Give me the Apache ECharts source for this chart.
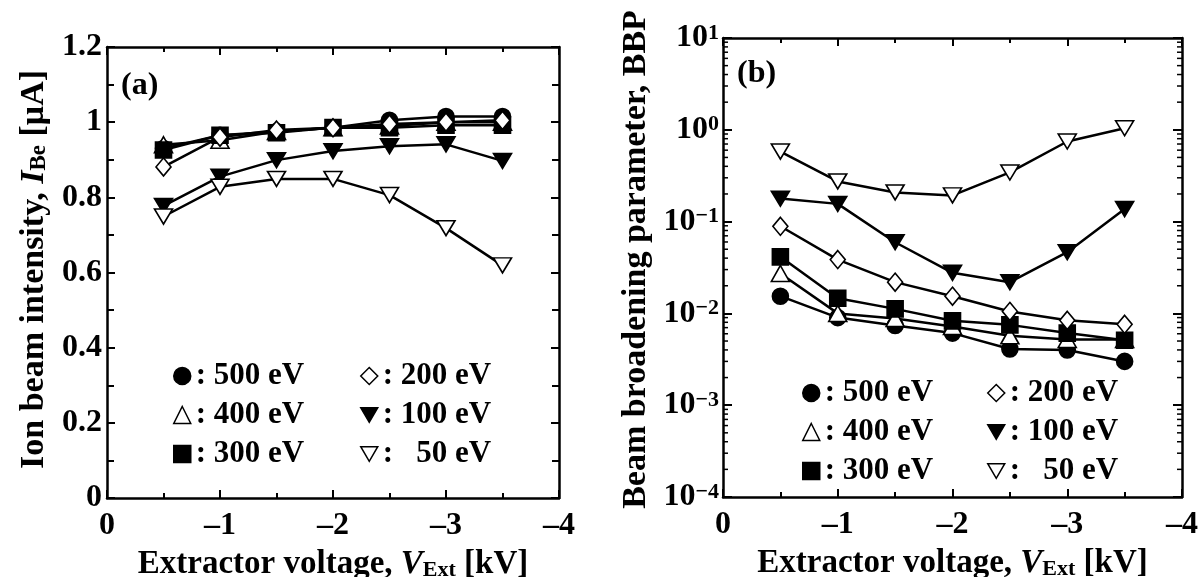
<!DOCTYPE html>
<html><head><meta charset="utf-8">
<script src="https://cdn.jsdelivr.net/npm/echarts@6/dist/echarts.min.js"></script>
<style>html,body{margin:0;padding:0;background:#fff}#c{width:1198px;height:577px}</style>
</head><body><div id="c"></div><script>
// ---------------- data ----------------
const xVals = [-0.5, -1, -1.5, -2, -2.5, -3, -3.5];
const seriesNames = ['500 eV', '400 eV', '300 eV', '200 eV', '100 eV', '50 eV'];
// panel (a) Ion beam intensity [uA]
const intensity500 = [0.930, 0.965, 0.975, 0.985, 1.005, 1.015, 1.015];
const intensity400 = [0.940, 0.952, 0.975, 0.985, 0.990, 1.000, 1.000];
const intensity300 = [0.926, 0.965, 0.972, 0.986, 0.985, 0.992, 0.992];
const intensity200 = [0.881, 0.960, 0.979, 0.985, 0.995, 1.000, 1.005];
const intensity100 = [0.777, 0.855, 0.899, 0.923, 0.936, 0.941, 0.897];
const intensity50  = [0.749, 0.828, 0.849, 0.849, 0.806, 0.718, 0.619];
// panel (b) Beam broadening parameter
const bbp500 = [0.0154, 0.0090, 0.0074, 0.0061, 0.0041, 0.0040, 0.0030];
const bbp400 = [0.0272, 0.0100, 0.0088, 0.0072, 0.0057, 0.0052, 0.0052];
const bbp300 = [0.0413, 0.0146, 0.0112, 0.0083, 0.0075, 0.0061, 0.0051];
const bbp200 = [0.0889, 0.0386, 0.0219, 0.0154, 0.0105, 0.0084, 0.0076];
const bbp100 = [0.178, 0.156, 0.0596, 0.0277, 0.0219, 0.0464, 0.137];
const bbp50  = [0.58, 0.274, 0.208, 0.193, 0.343, 0.746, 1.04];
// axis ranges / ticks
const xMin = -4, xMax = 0, xInterval = 1;
const intensityMin = 0, intensityMax = 1.2, intensityInterval = 0.2;
const bbpMin = 1e-4, bbpMax = 10;
const bbpDecades = [-4, -3, -2, -1, 0];
const bbpMinorMultipliers = [2, 3, 4, 5, 6, 7, 8, 9];

// ---------------- styling ----------------
const FONT = '"Liberation Serif", "DejaVu Serif", serif';
const downTri = 'path://M0,0L10,0L5,8.66Z';
const markers = {
  '500 eV': {symbol: 'circle', size: 16, fill: '#000'},
  '400 eV': {symbol: 'triangle', size: [18, 16], fill: '#fff'},
  '300 eV': {symbol: 'rect', size: 16, fill: '#000'},
  '200 eV': {symbol: 'diamond', size: [15, 18], fill: '#fff'},
  '100 eV': {symbol: downTri, size: [18, 15], fill: '#000'},
  '50 eV':  {symbol: downTri, size: [18, 15], fill: '#fff'}
};
const intensityData = [intensity500, intensity400, intensity300, intensity200, intensity100, intensity50];
const bbpData = [bbp500, bbp400, bbp300, bbp200, bbp100, bbp50];

function makeSeries(name, vals, xi, yi) {
  const m = markers[name];
  return {
    type: 'line', name: name, xAxisIndex: xi, yAxisIndex: yi,
    data: xVals.map((x, i) => [x, vals[i]]),
    symbol: m.symbol, symbolSize: m.size,
    showSymbol: true, animation: false, silent: true,
    lineStyle: {color: '#000', width: 2.5},
    itemStyle: {color: m.fill, borderColor: '#000', borderWidth: 1.6, opacity: 1},
    z: 3
  };
}

const series = [];
seriesNames.forEach((n, i) => series.push(makeSeries(n, intensityData[i], 0, 0)));
seriesNames.forEach((n, i) => series.push(makeSeries(n, bbpData[i], 2, 2)));

// log-axis minor ticks (drawn through the axis scale)
const minorVals = [];
bbpDecades.forEach(d => bbpMinorMultipliers.forEach(k => minorVals.push([0, k * Math.pow(10, d)])));
series.push({
  type: 'custom', xAxisIndex: 2, yAxisIndex: 2, silent: true, animation: false, z: 5,
  data: minorVals,
  renderItem: function (params, api) {
    const v = api.value(1);
    const l = api.coord([xMax, v]);
    const r = api.coord([xMin, v]);
    return {type: 'group', children: [
      {type: 'line', shape: {x1: l[0], y1: l[1], x2: l[0] + 5, y2: l[1]}, style: {stroke: '#000', lineWidth: 1.5}},
      {type: 'line', shape: {x1: r[0], y1: r[1], x2: r[0] - 5, y2: r[1]}, style: {stroke: '#000', lineWidth: 1.5}}
    ]};
  }
});

const lineStyle = {lineStyle: {color: '#000', width: 2.5}};
const labelFont = {fontFamily: FONT, fontWeight: 'bold', fontSize: 32, color: '#000'};
function makeRich(fs) {
  const ss = Math.round(fs * 0.67);
  return {
    t: {fontFamily: FONT, fontWeight: 'bold', fontSize: fs, color: '#000', lineHeight: fs, verticalAlign: 'top'},
    i: {fontFamily: FONT, fontWeight: 'bold', fontStyle: 'italic', fontSize: fs, color: '#000', lineHeight: fs, verticalAlign: 'top'},
    s: {fontFamily: FONT, fontWeight: 'bold', fontSize: ss, color: '#000', lineHeight: ss, verticalAlign: 'bottom', padding: [Math.round(fs * 0.6), 0, 0, 0]}
  };
}

function xAxisDef(grid, pos, showLabel, name) {
  return {
    type: 'value', gridIndex: grid, position: pos, min: xMin, max: xMax, interval: xInterval, inverse: true,
    axisLine: Object.assign({show: true, onZero: false}, lineStyle),
    axisTick: {show: true, inside: true, length: 8, lineStyle: {color: '#000', width: 2}},
    minorTick: {show: true, splitNumber: 2, length: 5, lineStyle: {color: '#000', width: 2}},
    splitLine: {show: false},
    axisLabel: Object.assign({show: showLabel, margin: 12,
      formatter: v => v === 0 ? '0' : '\u2013' + Math.abs(v)}, labelFont),
    name: name || '', nameLocation: 'middle', nameGap: 50, nameMoveOverlap: false,
    nameTextStyle: {rich: makeRich(33)}
  };
}

const option = {
  animation: false,
  backgroundColor: '#fff',
  title: [
    {text: '(a)', left: 121, top: 70, padding: 0, textStyle: {fontFamily: FONT, fontWeight: 'bold', fontSize: 32, color: '#000'}},
    {text: '(b)', left: 737, top: 58, padding: 0, textStyle: {fontFamily: FONT, fontWeight: 'bold', fontSize: 32, color: '#000'}}
  ],
  grid: [
    {left: 107, top: 47, width: 452, height: 451, containLabel: false, outerBoundsMode: 'none'},
    {left: 723, top: 38, width: 459, height: 459, containLabel: false, outerBoundsMode: 'none'}
  ],
  xAxis: [
    xAxisDef(0, 'bottom', true, '{t|Extractor voltage, }{i|V}{s|Ext}{t| [kV]}'),
    xAxisDef(0, 'top', false),
    xAxisDef(1, 'bottom', true, '{t|Extractor voltage, }{i|V}{s|Ext}{t| [kV]}'),
    xAxisDef(1, 'top', false)
  ],
  yAxis: [
    {
      type: 'value', gridIndex: 0, position: 'left', min: intensityMin, max: intensityMax, interval: intensityInterval,
      axisLine: Object.assign({show: true, onZero: false}, lineStyle),
      axisTick: {show: true, inside: true, length: 8, lineStyle: {color: '#000', width: 2}},
      minorTick: {show: true, splitNumber: 2, length: 7, lineStyle: {color: '#000', width: 2}},
      splitLine: {show: false},
      axisLabel: Object.assign({margin: 5, formatter: v => String(+v.toFixed(1))}, labelFont),
      name: '{t|Ion beam intensity, }{i|I}{s|Be}{t| [\u03bcA]}', nameLocation: 'middle', nameGap: 56, nameMoveOverlap: false,
      nameTextStyle: {padding: [0, 0, 0, 6], rich: makeRich(34)}
    },
    {
      type: 'value', gridIndex: 0, position: 'right', min: intensityMin, max: intensityMax, interval: intensityInterval,
      axisLine: Object.assign({show: true, onZero: false}, lineStyle),
      axisTick: {show: true, inside: true, length: 8, lineStyle: {color: '#000', width: 2}},
      minorTick: {show: true, splitNumber: 2, length: 7, lineStyle: {color: '#000', width: 2}},
      splitLine: {show: false}, axisLabel: {show: false}
    },
    {
      type: 'log', logBase: 10, gridIndex: 1, position: 'left', min: bbpMin, max: bbpMax,
      axisLine: Object.assign({show: true, onZero: false}, lineStyle),
      axisTick: {show: true, inside: true, length: 9, lineStyle: {color: '#000', width: 2}},
      minorTick: {show: false}, splitLine: {show: false},
      axisLabel: {
        margin: 4,
        formatter: v => {
          const e = Math.round(Math.log10(v));
          return '{b|10}{p|' + (e < 0 ? '\u2212' + (-e) : e) + '}';
        },
        rich: {
          b: {fontFamily: FONT, fontWeight: 'bold', fontSize: 32, color: '#000', lineHeight: 32, verticalAlign: 'bottom'},
          p: {fontFamily: FONT, fontWeight: 'bold', fontSize: 22, color: '#000', lineHeight: 22, verticalAlign: 'top', padding: [0, 0, 22, 0]}
        }
      },
      name: 'Beam broadening parameter, BBP', nameLocation: 'middle', nameGap: 70, nameMoveOverlap: false,
      nameTextStyle: {fontFamily: FONT, fontWeight: 'bold', fontSize: 34, color: '#000', lineHeight: 34, padding: [0, 0, 0, 16]}
    },
    {
      type: 'log', logBase: 10, gridIndex: 1, position: 'right', min: bbpMin, max: bbpMax,
      axisLine: Object.assign({show: true, onZero: false}, lineStyle),
      axisTick: {show: true, inside: true, length: 9, lineStyle: {color: '#000', width: 2}},
      minorTick: {show: false}, splitLine: {show: false}, axisLabel: {show: false}
    }
  ],
  legend: [],
  series: series
};

function legendDef(names, left, top) {
  return {
    orient: 'vertical', left: left, top: top, itemGap: 7, itemWidth: 17, itemHeight: 17,
    selectedMode: false, padding: 0,
    textStyle: {fontFamily: FONT, fontWeight: 'bold', fontSize: 31, color: '#000', lineHeight: 32},
    formatter: n => ': ' + (n.length < 6 ? '  ' : '') + n,
    data: names.map(n => ({
      name: n, icon: markers[n].symbol,
      itemStyle: {color: markers[n].fill, borderColor: '#000', borderWidth: 1.5}
    }))
  };
}
option.legend = [
  legendDef(['500 eV', '400 eV', '300 eV'], 173, 360),
  legendDef(['200 eV', '100 eV', '50 eV'], 360, 360),
  legendDef(['500 eV', '400 eV', '300 eV'], 802, 377),
  legendDef(['200 eV', '100 eV', '50 eV'], 987, 377)
];

const chart = echarts.init(document.getElementById('c'), null, {renderer: 'canvas'});
chart.setOption(option);
</script></body></html>
